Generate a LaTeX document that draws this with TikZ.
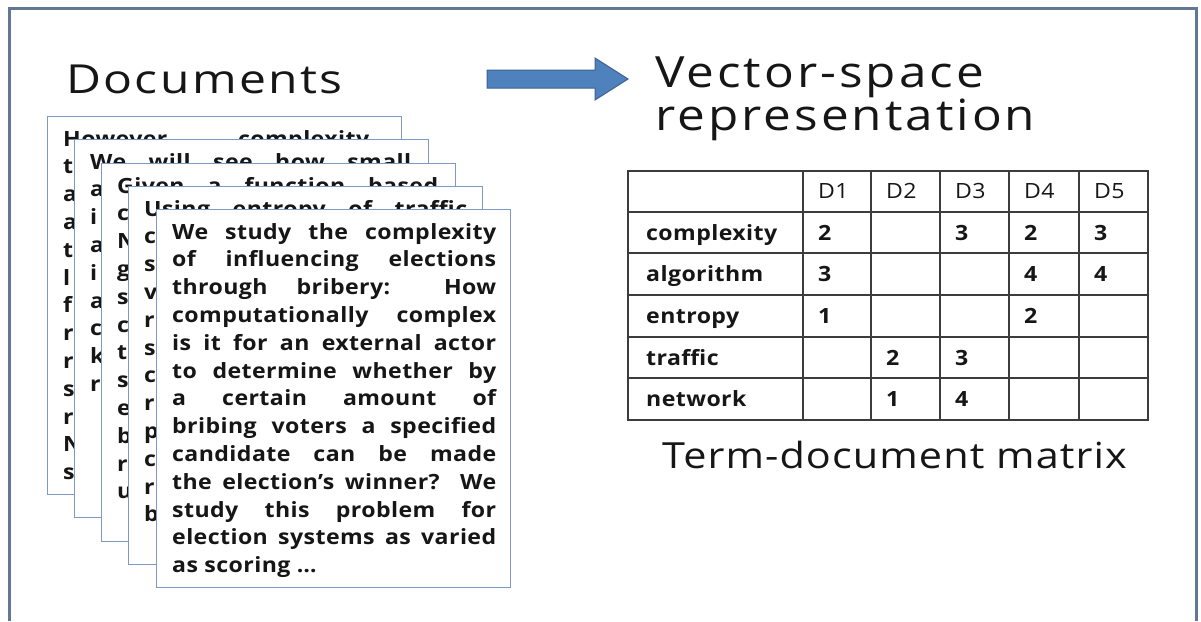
\documentclass[tikz,border=0pt]{standalone}
\usepackage{fontspec}
\setmainfont{Open Sans}
\newfontfamily\docheadfont{Open Sans}[FakeStretch=1.2, LetterSpace=6]
\newfontfamily\vsheadfont{Open Sans}[FakeStretch=1.15, LetterSpace=7]
\newfontfamily\capfont{Open Sans}[FakeStretch=1.15, LetterSpace=3]
\newfontfamily\bodyfont{Open Sans}[FakeStretch=1.1, LetterSpace=2]
\newfontfamily\cellfont{Open Sans}[FakeStretch=1.1, LetterSpace=2]

\definecolor{framecol}{RGB}{98,118,150}
\definecolor{pagecol}{RGB}{128,152,196}
\definecolor{arrowfill}{RGB}{79,129,189}
\definecolor{arrowline}{RGB}{60,98,145}
\definecolor{gridcol}{RGB}{60,60,60}
\definecolor{inkcol}{RGB}{22,22,22}

% one justified line of a document page
\newcommand\jl[2][324pt]{\hbox to #1{#2}}
\newcommand\lt[1]{\hbox{#1}}

\tikzset{
  docpage/.style={draw=pagecol, fill=white, line width=1.3pt,
    minimum width=354, minimum height=378, inner sep=0, anchor=north west},
  doctext/.style={anchor=base west, inner sep=0, text=inkcol,
    font=\bodyfont\bfseries\fontsize{21}{27.8}\selectfont},
  termcell/.style={anchor=base west, inner sep=0, text=inkcol,
    font=\cellfont\bfseries\fontsize{21}{24}\selectfont},
  numcell/.style={anchor=base west, inner sep=0, text=inkcol,
    font=\cellfont\bfseries\fontsize{21}{24}\selectfont},
  headcell/.style={anchor=base west, inner sep=0, text=inkcol,
    font=\cellfont\fontsize{21}{24}\selectfont},
  grid/.style={draw=gridcol, line width=1.8pt},
}

\begin{document}
\begin{tikzpicture}[x=1pt,y=-1pt]
\useasboundingbox (0,0) rectangle (1201,621);
\fill[white] (0,0) rectangle (1201,621);

% outer frame (its lower edge lies below the visible area)
\draw[framecol, line width=3pt] (9,621) -- (9,8) -- (1196,8) -- (1196,621);

% headings
\node[anchor=base west, inner sep=0, text=inkcol,
  font=\docheadfont\fontsize{40}{48}\selectfont] (docs) at (66,93) {Documents};
\node[anchor=base west, inner sep=0, text=inkcol,
  font=\vsheadfont\fontsize{43}{48}\selectfont] (vs1) at (655,87) {Vector-space};
\node[anchor=base west, inner sep=0, text=inkcol,
  font=\vsheadfont\fontsize{43}{48}\selectfont] (vs2) at (655,130) {representation};

% block arrow
\filldraw[fill=arrowfill, draw=arrowline, line width=1pt]
  (487,70) -- (595,70) -- (595,58) -- (628,79) -- (595,100) -- (595,88) -- (487,88) -- cycle;

% stack of document pages, back to front
\node[docpage] (p1) at (47,116) {};
\node[doctext] (t1) at (63,146) {\vtop{%
  \jl[306pt]{However complexity}\lt{t}\lt{a}\lt{a}\lt{t}\lt{l}\lt{f}%
  \lt{r}\lt{r}\lt{s}\lt{r}\lt{N}\lt{s}}};

\node[docpage] (p2) at (74,139) {};
\node[doctext] (t2) at (90,169) {\vtop{%
  \jl[321pt]{We will see how small}\lt{a}\lt{i}\lt{a}\lt{i}\lt{a}\lt{c}%
  \lt{k}\lt{r}}};

\node[docpage] (p3) at (101,163) {};
\node[doctext] (t3) at (117,193) {\vtop{%
  \jl[321pt]{Given a function based}\lt{c}\lt{N}\lt{g}\lt{s}\lt{c}\lt{t}%
  \lt{s}\lt{e}\lt{b}\lt{r}\lt{u}}};

\node[docpage] (p4) at (128,186) {};
\node[doctext] (t4) at (144,216) {\vtop{%
  \jl[323pt]{Using entropy of traffic}\lt{c}\lt{s}\lt{v}\lt{r}\lt{s}\lt{c}%
  \lt{r}\lt{p}\lt{c}\lt{r}\lt{b}}};

\node[docpage] (p5) at (156,209) {};
\node[doctext] (t5) at (172,239) {\vtop{%
  \jl{We study the complexity}
  \jl{of influencing elections}
  \jl{through bribery: How}
  \jl{computationally complex}
  \jl{is it for an external actor}
  \jl{to determine whether by}
  \jl{a certain amount of}
  \jl{bribing voters a specified}
  \jl{candidate can be made}
  \jl{the election’s winner? We}
  \jl{study this problem for}
  \jl{election systems as varied}
  \lt{as scoring …}}};

% term-document matrix
\node[grid, minimum width=520, minimum height=249, inner sep=0,
  anchor=north west] (tdm) at (627,170) {};
\foreach \cx in {803,871,940,1009,1079}
  \draw[grid] (\cx,170) -- (\cx,419);
\foreach \ry in {212,253,295,337,378}
  \draw[grid] (627,\ry) -- (1147,\ry);

\foreach \lab [count=\i] in {D1,D2,D3,D4,D5}{
  \pgfmathsetmacro{\cx}{{803,871,940,1009,1079}[\i-1]+15}
  \node[headcell] (h\i) at (\cx,198.5) {\lab};
}
\node[termcell] (r1) at (646,240) {complexity};
\node[termcell] (r2) at (646,281.5) {algorithm};
\node[termcell] (r3) at (646,323.5) {entropy};
\node[termcell] (r4) at (646,365) {traffic};
\node[termcell] (r5) at (646,406) {network};

% counts
\node[numcell] (c11) at (818,240) {2};
\node[numcell] (c13) at (955,240) {3};
\node[numcell] (c14) at (1024,240) {2};
\node[numcell] (c15) at (1094,240) {3};
\node[numcell] (c21) at (818,281.5) {3};
\node[numcell] (c24) at (1024,281.5) {4};
\node[numcell] (c25) at (1094,281.5) {4};
\node[numcell] (c31) at (818,323.5) {1};
\node[numcell] (c34) at (1024,323.5) {2};
\node[numcell] (c42) at (886,365) {2};
\node[numcell] (c43) at (955,365) {3};
\node[numcell] (c52) at (886,406) {1};
\node[numcell] (c53) at (955,406) {4};

\node[anchor=base west, inner sep=0, text=inkcol,
  font=\capfont\fontsize{36}{44}\selectfont] (cap) at (662,468) {Term-document matrix};
\end{tikzpicture}
\end{document}
